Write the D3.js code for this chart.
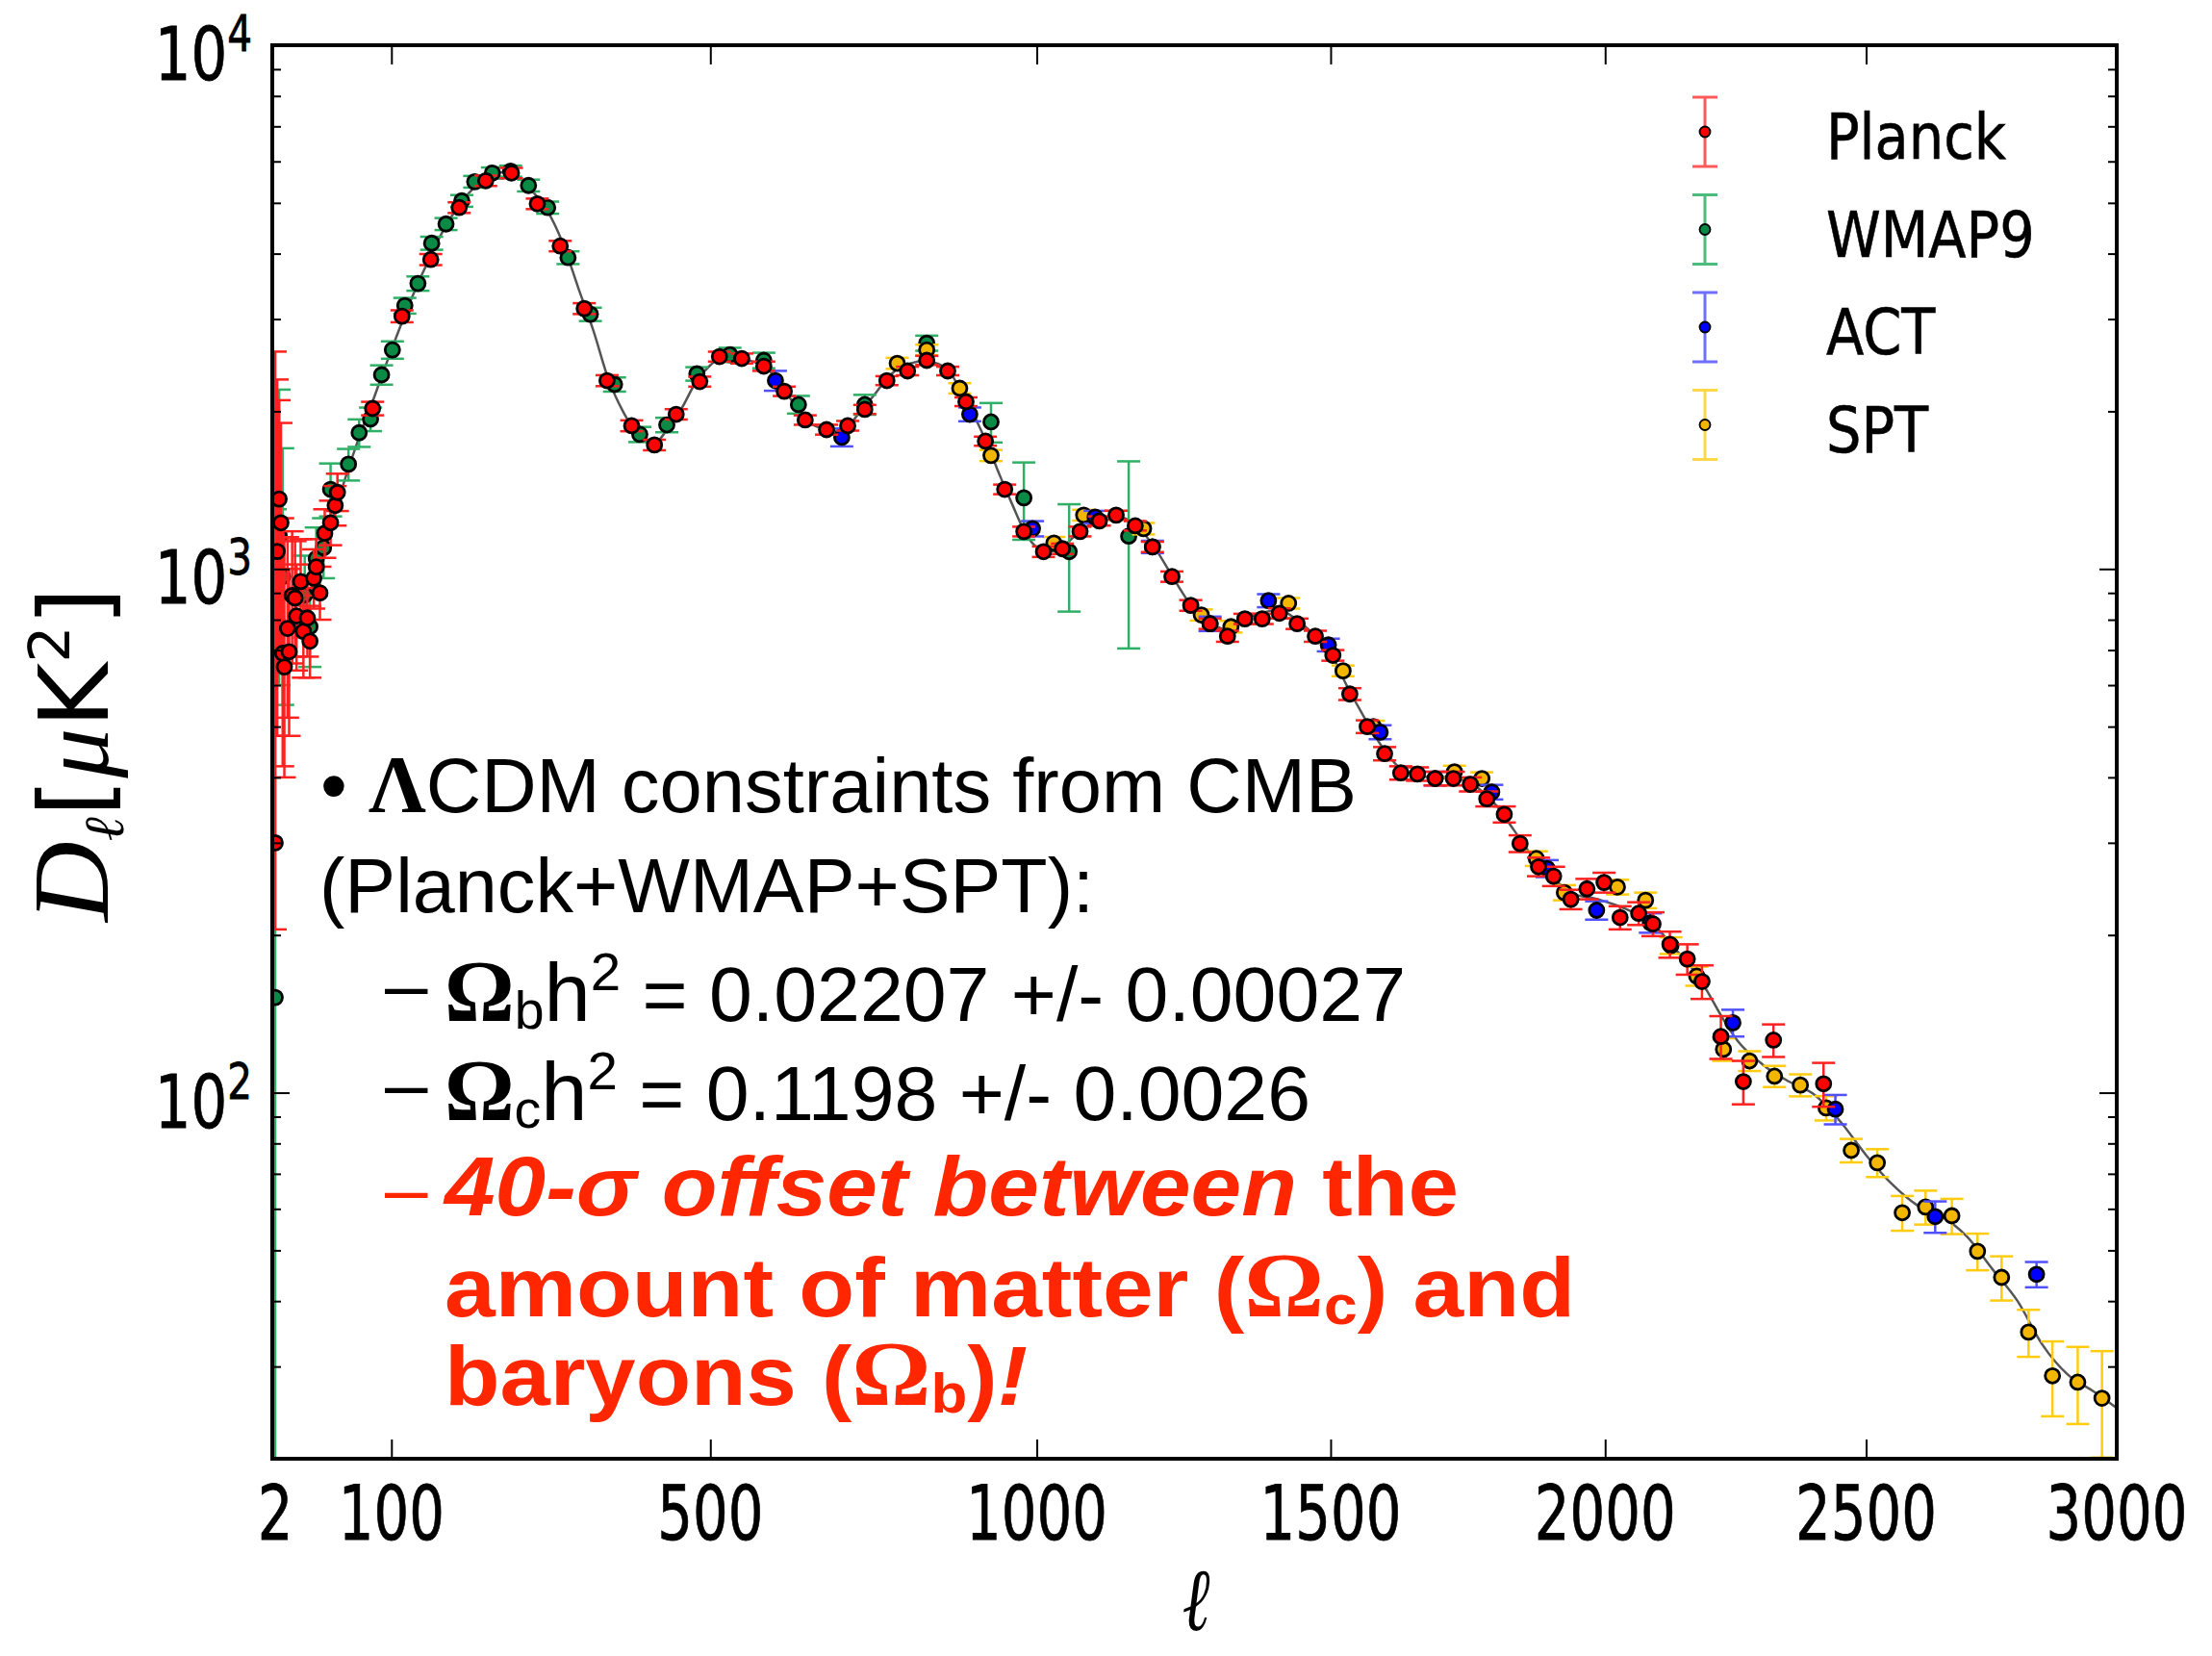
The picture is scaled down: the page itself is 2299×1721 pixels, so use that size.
<!DOCTYPE html>
<html>
<head>
<meta charset="utf-8">
<script src="https://cdn.jsdelivr.net/npm/d3@7"></script>
<style>
	body { margin: 0; background: #fff; }
	svg { display: block; }
</style>
</head>
<body>
<svg id="chart" width="2299" height="1721"></svg>
<script>
	//multipole values and D_l (uK^2)
	//low-l points: [l, D, lower, upper]
var planckLow = [
	[2, 300, 205, 2600], [3, 1080, 480, 2300], [4, 1360, 700, 2100], [5, 1225, 680, 1900],
	[6, 690, 420, 1250], [7, 650, 400, 1150], [9, 770, 520, 1150], [10, 695, 480, 1000],
	[12, 890, 660, 1180], [14, 880, 680, 1130], [15, 813, 640, 1020], [18, 946, 770, 1140],
	[20, 760, 620, 920], [23, 806, 680, 950], [25, 728, 620, 850], [28, 960, 840, 1090],
	[30, 1009, 890, 1140], [33, 900, 800, 1010], [37, 1170, 1050, 1300], [42, 1225, 1110, 1350],
	[46, 1322, 1210, 1440], [48, 1400, 1290, 1520]
];

var wmapLow = [
	[2, 152, 10, 1300], [4, 1159, 600, 2200], [6, 967, 550, 1700], [21, 892, 740, 1060],
	[25, 776, 650, 920], [30, 1047, 900, 1200], [36, 1098, 960, 1250], [42, 1419, 1260, 1590]
];

	//binned points: [l, D, error]
var planck = [
	[81, 2025, 60], [111, 3038, 80], [142, 3898, 95], [174, 4898, 115], [205, 5512, 125],
	[236, 5702, 130], [268, 4980, 115], [297, 4136, 95], [328, 3142, 75], [358, 2289, 55],
	[391, 1877, 45], [422, 1725, 40], [452, 1974, 45], [485, 2279, 50], [513, 2544, 55],
	[545, 2523, 55], [577, 2439, 50], [607, 2184, 45], [638, 1925, 40], [670, 1845, 40],
	[702, 1877, 40], [728, 2017, 40], [762, 2289, 45], [794, 2388, 45], [824, 2502, 50],
	[857, 2388, 45], [886, 2086, 40], [917, 1754, 35], [948, 1419, 30], [979, 1179, 25],
	[1011, 1079, 25], [1042, 1093, 25], [1071, 1179, 25], [1103, 1235, 25], [1131, 1267, 25],
	[1163, 1209, 25], [1192, 1102, 25], [1225, 967, 22], [1257, 852, 20], [1290, 786, 18],
	[1320, 744, 18], [1350, 803, 18], [1380, 803, 18], [1410, 823, 18], [1441, 786, 18],
	[1473, 744, 18], [1504, 684, 16], [1534, 577, 15], [1565, 500, 14], [1596, 444, 13],
	[1625, 408, 12], [1655, 406, 12], [1687, 398, 12], [1720, 398, 12], [1751, 388, 12],
	[1781, 364, 12], [1813, 340, 12], [1842, 299, 11], [1876, 270, 11], [1904, 259, 11],
	[1936, 234, 10], [1966, 245, 11], [1998, 252, 11], [2028, 216, 11], [2063, 220, 11],
	[2090, 210, 11], [2122, 192, 11], [2155, 180, 12], [2183, 163, 12], [2219, 128, 12],
	[2262, 105, 10], [2320, 126, 9], [2417, 104, 10]
];

var wmap = [
	[58, 1585, 110], [68, 1820, 110], [79, 1933, 100], [90, 2348, 100], [101, 2620, 100],
	[114, 3183, 110], [128, 3508, 110], [143, 4188, 120], [159, 4557, 120], [177, 5045, 130],
	[192, 5488, 140], [213, 5702, 140], [235, 5750, 140], [257, 5398, 140], [281, 4898, 130],
	[307, 3931, 110], [336, 3064, 90], [368, 2251, 70], [402, 1807, 60], [439, 1884, 60],
	[481, 2358, 70], [528, 2564, 80], [577, 2502, 85], [628, 2060, 80], [728, 2060, 90],
	[824, 2699, 90], [926, 1909, 165], [979, 1367, 230], [1053, 1079, 250], [1152, 1155, 450]
];

var act = [
	[594, 2289, 100], [693, 1784, 70], [892, 1974, 60], [993, 1194, 40], [1096, 1256, 35],
	[1192, 1102, 30], [1290, 786, 25], [1391, 870, 25], [1496, 716, 20], [1588, 488, 15],
	[1687, 398, 12], [1790, 375, 12], [1892, 268, 10], [1984, 223, 9], [2085, 211, 9],
	[2242, 136, 8], [2440, 93, 6], [2636, 58, 4], [2838, 45, 2.5]
];

var spt = [
	[778, 2470, 60], [824, 2620, 60], [876, 2213, 50], [926, 1647, 40], [1028, 1121, 30],
	[1077, 1267, 30], [1177, 1194, 30], [1275, 817, 20], [1326, 776, 20], [1426, 860, 20],
	[1522, 639, 15], [1576, 500, 13], [1722, 410, 11], [1772, 398, 11], [1872, 280, 9],
	[1924, 241, 8], [2023, 247, 8], [2076, 233, 8], [2124, 191, 7], [2173, 167, 7],
	[2224, 121, 6], [2274, 115, 5], [2322, 107.5, 5], [2372, 103.4, 5], [2422, 93.5, 5],
	[2471, 77.6, 4], [2522, 73.5, 4.5], [2571, 59, 4.5], [2617, 60.5, 4.5], [2669, 58.2, 4.5],
	[2720, 49.8, 4], [2768, 44.4, 4.3], [2822, 34.9, 3.6], [2870, 28.8, 4.7], [2921, 28, 4.7],
	[2970, 26.1, 6]
];

	//best fit model curve (grey line)
var model = [
	[2, 1000], [5, 850], [10, 780], [20, 830], [30, 980], [40, 1180], [50, 1380], [60, 1600],
	[70, 1830], [80, 2060], [90, 2330], [100, 2620], [120, 3250], [140, 3900], [160, 4560],
	[180, 5100], [200, 5500], [220, 5730], [240, 5650], [260, 5300], [280, 4850], [300, 4200],
	[320, 3450], [340, 2850], [360, 2300], [380, 1990], [400, 1800], [420, 1730], [440, 1850],
	[460, 2030], [480, 2280], [500, 2450], [520, 2550], [540, 2540], [560, 2490], [580, 2430],
	[600, 2260], [620, 2080], [640, 1920], [660, 1860], [680, 1830], [700, 1860], [720, 1990],
	[740, 2130], [760, 2290], [780, 2420], [800, 2470], [820, 2500], [840, 2470], [860, 2380],
	[880, 2160], [900, 1950], [920, 1730], [940, 1510], [960, 1330], [980, 1180], [1000, 1100],
	[1020, 1080], [1040, 1095], [1060, 1150], [1080, 1200], [1100, 1240], [1120, 1260],
	[1140, 1255], [1160, 1220], [1180, 1160], [1200, 1080], [1230, 950], [1260, 845],
	[1290, 790], [1320, 765], [1350, 800], [1380, 825], [1410, 835], [1440, 800], [1470, 750],
	[1500, 690], [1530, 595], [1560, 520], [1590, 460], [1620, 420], [1650, 405], [1680, 400],
	[1710, 400], [1740, 395], [1770, 378], [1800, 352], [1830, 318], [1860, 287], [1890, 264],
	[1920, 248], [1950, 238], [1980, 235], [2010, 230], [2040, 224], [2070, 216], [2100, 205],
	[2130, 189], [2160, 175], [2190, 158], [2220, 140], [2250, 126], [2300, 113], [2350, 105],
	[2400, 99], [2450, 88], [2500, 76], [2550, 67], [2600, 61], [2650, 58], [2700, 53],
	[2750, 46], [2800, 40], [2850, 33], [2900, 29], [2950, 27], [3000, 25]
];

var xTickValues = [100, 500, 1000, 1500, 2000, 2500];
var xTickLabels = [2, 100, 500, 1000, 1500, 2000, 2500, 3000];
var yMajor = [100, 1000, 10000];
var yMinor = [20, 30, 40, 50, 60, 70, 80, 90, 200, 300, 400, 500, 600, 700, 800, 900,
	2000, 3000, 4000, 5000, 6000, 7000, 8000, 9000];

var legendNames = ['Planck', 'WMAP9', 'ACT', 'SPT'];

var FONT_PLOT = '"DejaVu Sans", sans-serif';
var FONT_SLIDE = '"Liberation Sans", Arial, sans-serif';
var FONT_SERIF = '"Liberation Serif", "Times New Roman", serif';
var RED_TEXT = '#ff2600';

var style = {
	Planck: {fill: '#ff0000', bar: '#ff2020', legendBar: '#ff5a5a'},
	WMAP9: {fill: '#0b8a45', bar: '#2fb066', legendBar: '#4cbb7c'},
	ACT: {fill: '#0000ff', bar: '#5050ff', legendBar: '#7070ff'},
	SPT: {fill: '#f2b600', bar: '#ffcc10', legendBar: '#ffd84a'}
};

var plot = {left: 283, right: 2200, top: 47, bottom: 1516};

var svg = d3.select('#chart');

var x = d3.scalePow().exponent(0.8).domain([2, 3000]).range([286, plot.right]);
var y = d3.scaleLog().domain([20, 10000]).range([plot.bottom, plot.top]);

svg.append('rect').attr('width', 2299).attr('height', 1721).attr('fill', '#fff');

svg.append('defs').append('clipPath').attr('id', 'plot-clip')
	.append('rect')
	.attr('x', plot.left).attr('y', plot.top)
	.attr('width', plot.right - plot.left).attr('height', plot.bottom - plot.top);

var dataLayer = svg.append('g').attr('clip-path', 'url(#plot-clip)');

	//model curve
var line = d3.line()
	.x(function(d) { return x(d[0]); })
	.y(function(d) { return y(d[1]); })
	.curve(d3.curveMonotoneX);

dataLayer.append('path')
	.datum(model)
	.attr('d', line)
	.attr('fill', 'none')
	.attr('stroke', '#555')
	.attr('stroke-width', 2.5);

function lowOf(d) { return d.length == 4 ? d[2] : Math.max(d[1] - d[2], 1); }
function highOf(d) { return d.length == 4 ? d[3] : d[1] + d[2]; }

function drawSeries(data, name) {
	var s = style[name];
	var g = dataLayer.append('g').attr('class', 'series-' + name);
	var capHalf = 12;

	var bars = g.selectAll('.bar').data(data).enter().append('g').attr('class', 'bar')
		.attr('stroke', s.bar).attr('stroke-width', 2.5);

	bars.append('line')
		.attr('x1', function(d) { return x(d[0]); })
		.attr('x2', function(d) { return x(d[0]); })
		.attr('y1', function(d) { return y(Math.max(lowOf(d), 5)); })
		.attr('y2', function(d) { return y(highOf(d)); });

	bars.append('line')
		.attr('x1', function(d) { return x(d[0]) - capHalf; })
		.attr('x2', function(d) { return x(d[0]) + capHalf; })
		.attr('y1', function(d) { return y(Math.max(lowOf(d), 5)); })
		.attr('y2', function(d) { return y(Math.max(lowOf(d), 5)); });

	bars.append('line')
		.attr('x1', function(d) { return x(d[0]) - capHalf; })
		.attr('x2', function(d) { return x(d[0]) + capHalf; })
		.attr('y1', function(d) { return y(highOf(d)); })
		.attr('y2', function(d) { return y(highOf(d)); });

	g.selectAll('.pt').data(data).enter().append('circle').attr('class', 'pt')
		.attr('cx', function(d) { return x(d[0]); })
		.attr('cy', function(d) { return y(d[1]); })
		.attr('r', 7.5)
		.attr('fill', s.fill)
		.attr('stroke', '#000')
		.attr('stroke-width', 2.8);
}

drawSeries(wmapLow.concat(wmap), 'WMAP9');
drawSeries(spt, 'SPT');
drawSeries(act, 'ACT');
drawSeries(planckLow.concat(planck), 'Planck');

	//ticks (inside, both sides)
function styleTicks(g) {
	g.select('.domain').remove();
	g.selectAll('.tick line').attr('stroke', '#000').attr('stroke-width', 2);
	g.selectAll('.tick text').remove();
}

svg.append('g').attr('transform', 'translate(0,' + plot.bottom + ')')
	.call(d3.axisBottom(x).tickValues(xTickValues).tickSize(-20)).call(styleTicks);
svg.append('g').attr('transform', 'translate(0,' + plot.top + ')')
	.call(d3.axisTop(x).tickValues(xTickValues).tickSize(-20)).call(styleTicks);
svg.append('g').attr('transform', 'translate(' + plot.left + ',0)')
	.call(d3.axisLeft(y).tickValues(yMajor).tickSize(-18)).call(styleTicks);
svg.append('g').attr('transform', 'translate(' + plot.left + ',0)')
	.call(d3.axisLeft(y).tickValues(yMinor).tickSize(-9)).call(styleTicks);
svg.append('g').attr('transform', 'translate(' + plot.right + ',0)')
	.call(d3.axisRight(y).tickValues(yMajor).tickSize(-18)).call(styleTicks);
svg.append('g').attr('transform', 'translate(' + plot.right + ',0)')
	.call(d3.axisRight(y).tickValues(yMinor).tickSize(-9)).call(styleTicks);

	//frame
svg.append('rect')
	.attr('x', plot.left).attr('y', plot.top)
	.attr('width', plot.right - plot.left).attr('height', plot.bottom - plot.top)
	.attr('fill', 'none').attr('stroke', '#000').attr('stroke-width', 4);

	//x tick labels
xTickLabels.forEach(function(v) {
	svg.append('text')
		.attr('transform', 'translate(' + x(v) + ',1600) scale(0.74,1)')
		.attr('text-anchor', 'middle')
		.attr('font-family', FONT_PLOT)
		.attr('font-size', 78)
		.attr('fill', '#000')
		.attr('stroke', '#000')
		.attr('stroke-width', 0.8)
		.text(v);
});

	//y tick labels 10^n
yMajor.forEach(function(v) {
	var t = svg.append('text')
		.attr('transform', 'translate(262,' + (y(v) + 36) + ') scale(0.78,1)')
		.attr('text-anchor', 'end')
		.attr('font-family', FONT_PLOT)
		.attr('font-size', 76)
		.attr('fill', '#000')
		.attr('stroke', '#000')
		.attr('stroke-width', 0.8);
	t.append('tspan').text('10');
	t.append('tspan').attr('font-size', 52).attr('dy', -30).text(Math.round(Math.log10(v)));
});

	//axis titles
svg.append('text')
	.attr('transform', 'translate(1243,1694) scale(0.75,1)')
	.attr('text-anchor', 'middle')
	.attr('font-family', '"DejaVu Serif", serif')
	.attr('font-style', 'italic')
	.attr('font-size', 92)
	.attr('fill', '#000')
	.text('\u2113');

var yTitle = svg.append('text')
	.attr('transform', 'translate(112,784) rotate(-90)')
	.attr('text-anchor', 'middle')
	.attr('font-family', FONT_PLOT)
	.attr('font-size', 100)
	.attr('fill', '#000')
	.attr('textLength', 348)
	.attr('lengthAdjust', 'spacingAndGlyphs');
yTitle.append('tspan').attr('font-family', FONT_SERIF).attr('font-style', 'italic').attr('font-size', 112).text('D');
yTitle.append('tspan').attr('font-family', '"DejaVu Serif", serif').attr('font-style', 'italic').attr('font-size', 58).attr('dy', 16).text('\u2113');
yTitle.append('tspan').attr('dy', -16).text('[');
yTitle.append('tspan').attr('font-family', FONT_SERIF).attr('font-style', 'italic').text('\u03bc');
yTitle.append('tspan').text('K');
yTitle.append('tspan').attr('font-size', 58).attr('dy', -40).text('2');
yTitle.append('tspan').attr('dy', 40).text(']');

	//legend
var legend = svg.append('g').attr('class', 'legend');
legendNames.forEach(function(name, i) {
	var cy = 137 + i * 101.5;
	var s = style[name];
	var row = legend.append('g');
	row.append('line').attr('x1', 1772).attr('x2', 1772).attr('y1', cy - 36).attr('y2', cy + 36)
		.attr('stroke', s.legendBar).attr('stroke-width', 3);
	row.append('line').attr('x1', 1759).attr('x2', 1785).attr('y1', cy - 36).attr('y2', cy - 36)
		.attr('stroke', s.legendBar).attr('stroke-width', 3);
	row.append('line').attr('x1', 1759).attr('x2', 1785).attr('y1', cy + 36).attr('y2', cy + 36)
		.attr('stroke', s.legendBar).attr('stroke-width', 3);
	row.append('circle').attr('cx', 1772).attr('cy', cy).attr('r', 5.5)
		.attr('fill', s.fill).attr('stroke', '#000').attr('stroke-width', 1.8);
	row.append('text')
		.attr('transform', 'translate(1898,' + (cy + 28) + ') scale(0.87,1)')
		.attr('font-family', FONT_PLOT)
		.attr('font-size', 66)
		.attr('fill', '#000')
		.attr('stroke', '#000')
		.attr('stroke-width', 0.6)
		.text(name);
});

	//slide annotation
var notes = svg.append('g').attr('class', 'notes');

function noteLine(xPos, yPos, width, color, bold) {
	return notes.append('text')
		.attr('x', xPos).attr('y', yPos)
		.attr('font-family', FONT_SLIDE)
		.attr('font-size', bold ? 88 : 80)
		.attr('font-weight', bold ? 'bold' : 'normal')
		.attr('fill', color)
		.attr('textLength', width)
		.attr('lengthAdjust', 'spacingAndGlyphs');
}

function dash(yPos, color) {
	notes.append('text')
		.attr('x', 400).attr('y', yPos)
		.attr('font-family', FONT_SLIDE)
		.attr('font-size', 80)
		.attr('fill', color)
		.text('\u2013');
}

var l1 = noteLine(333, 844, 1077, '#000', false);
l1.append('tspan').text('\u2022 ');
l1.append('tspan').attr('font-family', FONT_SERIF).attr('font-weight', 'bold').attr('font-size', 84).text('\u039b');
l1.append('tspan').text('CDM constraints from CMB');

noteLine(332, 948, 805, '#000', false).text('(Planck+WMAP+SPT):');

function omegaLine(yPos, sub, rest, width) {
	dash(yPos - 10, '#000');
	var t = noteLine(462, yPos, width, '#000', false);
	t.append('tspan').attr('font-family', FONT_SERIF).attr('font-weight', 'bold').attr('font-size', 90).text('\u03a9');
	t.append('tspan').attr('font-size', 55).attr('dy', 8).text(sub);
	t.append('tspan').attr('font-size', 86).attr('dy', -8).text('h');
	t.append('tspan').attr('font-size', 56).attr('dy', -32).text('2');
	t.append('tspan').attr('dy', 32).text(rest);
}

omegaLine(1061, 'b', ' = 0.02207 +/- 0.00027', 999);
omegaLine(1164, 'c', ' = 0.1198 +/- 0.0026', 900);

dash(1263, RED_TEXT);
var l5 = noteLine(462, 1263, 1054, RED_TEXT, true);
l5.append('tspan').attr('font-style', 'italic').text('40-\u03c3 offset between ');
l5.append('tspan').text('the');

var l6 = noteLine(462, 1368, 1175, RED_TEXT, true);
l6.append('tspan').text('amount of matter (');
l6.append('tspan').attr('font-family', FONT_SERIF).attr('font-size', 96).text('\u03a9');
l6.append('tspan').attr('font-size', 58).attr('dy', 8).text('c');
l6.append('tspan').attr('dy', -8).text(') and');

var l7 = noteLine(462, 1460, 606, RED_TEXT, true);
l7.append('tspan').text('baryons (');
l7.append('tspan').attr('font-family', FONT_SERIF).attr('font-size', 96).text('\u03a9');
l7.append('tspan').attr('font-size', 58).attr('dy', 8).text('b');
l7.append('tspan').attr('dy', -8).text(')');
l7.append('tspan').attr('font-style', 'italic').text('!');
</script>
</body>
</html>
